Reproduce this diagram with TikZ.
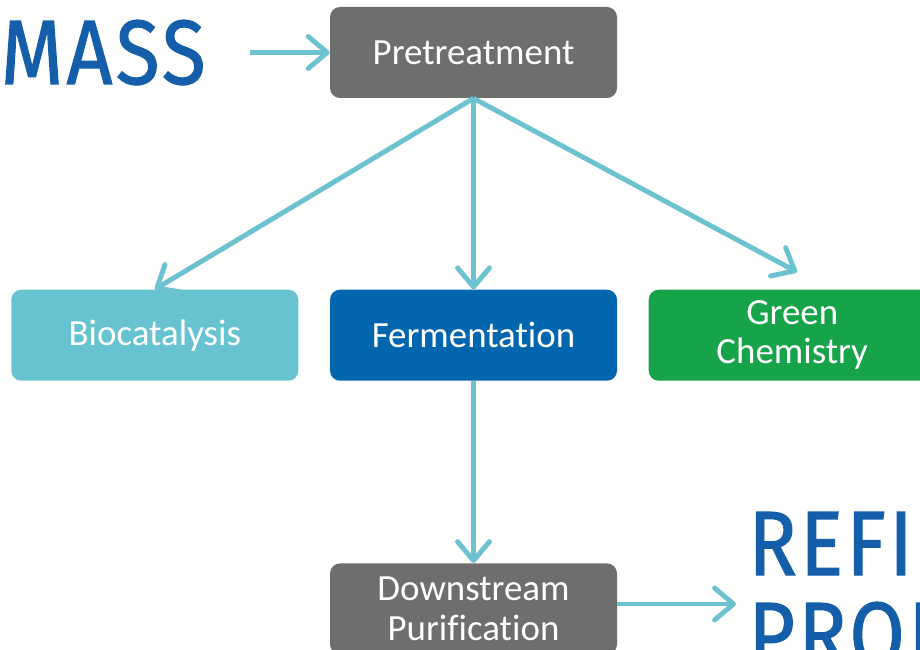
\documentclass[tikz,border=0pt]{standalone}
\usepackage{fontspec}
\setmainfont{Carlito}[Ligatures=NoCommon]
\newfontfamily\titlefont{Fira Sans}[FakeBold=1.2, LetterSpace=4]
\usetikzlibrary{arrows.meta, positioning}
\definecolor{boxgray}{HTML}{6E6E6E}
\definecolor{biocyan}{HTML}{67C3D0}
\definecolor{fermblue}{HTML}{0266AF}
\definecolor{chemgreen}{HTML}{17A34A}
\definecolor{flowcyan}{HTML}{6CC2CF}
\definecolor{titleblue}{HTML}{155FAA}

\begin{document}
\begin{tikzpicture}[every node/.style={align=center},
    flow/.style={line width=2.8pt, draw=flowcyan,
        -{Straight Barb[round, length=0.38cm, width=0.64cm]}},
    stage/.style={
        rounded corners=0.2cm,
        minimum width=5.74cm,
        minimum height=1.82cm,
        inner sep=0pt,
        text=white,
        font=\fontsize{21}{22.5}\selectfont
    },
    bigword/.style={
        text=titleblue,
        inner sep=0pt,
        xscale=0.88,
        font=\titlefont\fontsize{52}{52}\selectfont
    }]

    \useasboundingbox (0,0) rectangle (18.4,12.98);
    \clip (0,0) rectangle (18.4,12.98);

    % Process boxes
    \node[stage, fill=boxgray] (pre) at (9.47,11.93) {Pretreatment};
    \node[stage, fill=fermblue, below=3.82cm of pre] (ferm) {Fermentation};
    \node[stage, fill=biocyan, left=0.62cm of ferm] (bio) {Biocatalysis};
    \node[stage, fill=chemgreen, right=0.62cm of ferm] (chem) {Green\\Chemistry};
    \node[stage, fill=boxgray, below=3.64cm of ferm] (down) {Downstream\\Purification};

    % Feedstock and product words
    \node[bigword, anchor=base east] (mass) at (4.12,11.3) {MASS};
    \node[bigword, anchor=base west] (refi) at (14.96,1.48) {REFI};
    \node[bigword, anchor=base west] (prod) at (14.96,-0.34) {PROD};

    % Arrows
    \coordinate (massend) at (5.0,11.93);
    \coordinate (chemtip) at (15.94,7.54);
    \coordinate (prodend) at (14.72,0.9);
    \draw[flow] (massend) -- (pre.west);
    \draw[flow] (pre.south) -- (bio.north);
    \draw[flow] (pre.south) -- (ferm.north);
    \draw[flow] (pre.south) -- (chemtip);
    \draw[flow] (ferm.south) -- (down.north);
    \draw[flow] (down.east |- prodend) -- (prodend);

\end{tikzpicture}
\end{document}
